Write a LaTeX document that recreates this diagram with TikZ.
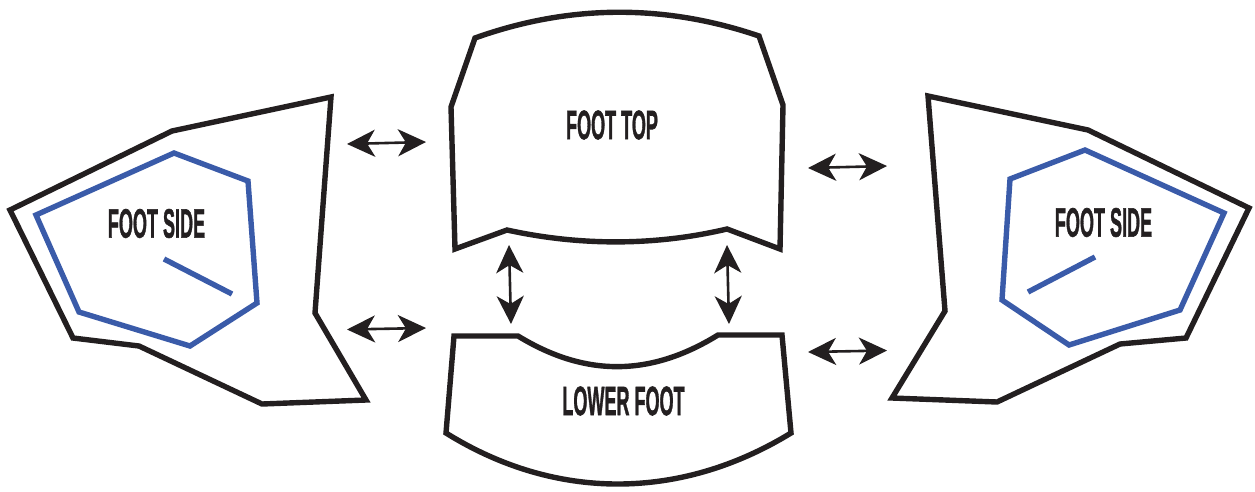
\documentclass[tikz,border=0pt]{standalone}
\usepackage{fontspec}
\setmainfont{Liberation Sans}
\newfontfamily\lblfont[BoldFont={Liberation Sans Bold},FakeBold=1.6]{Liberation Sans Bold}
\usetikzlibrary{arrows.meta}
\definecolor{inkk}{HTML}{231F20}
\definecolor{blu}{HTML}{3A5BA9}
\tikzset{
 shapeline/.style={draw=inkk,line width=5.4pt,miter limit=10,line join=miter},
 blueline/.style={draw=blu,line width=5.4pt,line join=miter},
 dbl/.style={draw=inkk,line width=2.6pt,{Stealth[length=28pt,width=27pt,inset=8pt]}-{Stealth[length=28pt,width=27pt,inset=8pt]}},
 lbl/.style={font=\lblfont\fontsize{41}{41}\selectfont,text=inkk,xscale=.44,transform shape,inner sep=0pt}
}
\begin{document}
\begin{tikzpicture}[x=1pt,y=-1pt]
\useasboundingbox (0,0) rectangle (1255,491);
% left side
\draw[shapeline] (10,210)--(172,131)--(331,97)--(315,313)--(366,400)--(262,404)--(139,346)--(73,338)--cycle;
\draw[blueline] (36,215)--(174,153)--(248,181)--(257,303)--(190,346)--(79,312)--cycle;
\coordinate (lb1) at (164,259); \coordinate (lb2) at (232,294);
\draw[blueline] (lb1)--(lb2);
% right side
\draw[shapeline] (928,96)--(1088,130)--(1249,208)--(1186,338)--(1120,344)--(997,402)--(892,398)--(945,311)--cycle;
\draw[blueline] (1085,150)--(1224,213)--(1180,310)--(1069,345)--(1002,300)--(1010,179)--cycle;
\coordinate (rb1) at (1095,257); \coordinate (rb2) at (1028,292);
\draw[blueline] (rb1)--(rb2);
% foot top
\draw[shapeline] (475,38) .. controls (570,4) and (665,4) .. (759,36) -- (783,105) -- (780,249) -- (727,229)
  .. controls (655,246) and (580,246) .. (507,230) -- (455,249) -- (451,107) -- cycle;
% lower foot
\draw[shapeline] (454,336) -- (518,336) .. controls (585,377) and (650,377) .. (718,335) -- (782,335) -- (791,433)
  .. controls (680,501) and (555,501) .. (446,433) -- cycle;
% labels
\node[lbl] (top) at (612,125) {FOOT TOP};
\node[lbl] (low) at (623.5,401) {LOWER FOOT};
\node[lbl] (ls) at (156.5,223.5) {FOOT SIDE};
\node[lbl] (rs) at (1103.5,222.5) {FOOT SIDE};
% arrows
\coordinate (a1) at (347,144); \coordinate (a2) at (426,142);
\coordinate (b1) at (347,329.5); \coordinate (b2) at (426,328);
\coordinate (c1) at (808,168); \coordinate (c2) at (887,166);
\coordinate (d1) at (808,352); \coordinate (d2) at (887,350.5);
\coordinate (e1) at (509,245); \coordinate (e2) at (511,324);
\coordinate (f1) at (727,245); \coordinate (f2) at (729,324);
\foreach \p/\q in {a1/a2,b1/b2,c1/c2,d1/d2,e1/e2,f1/f2} \draw[dbl] (\p)--(\q);
\end{tikzpicture}
\end{document}
